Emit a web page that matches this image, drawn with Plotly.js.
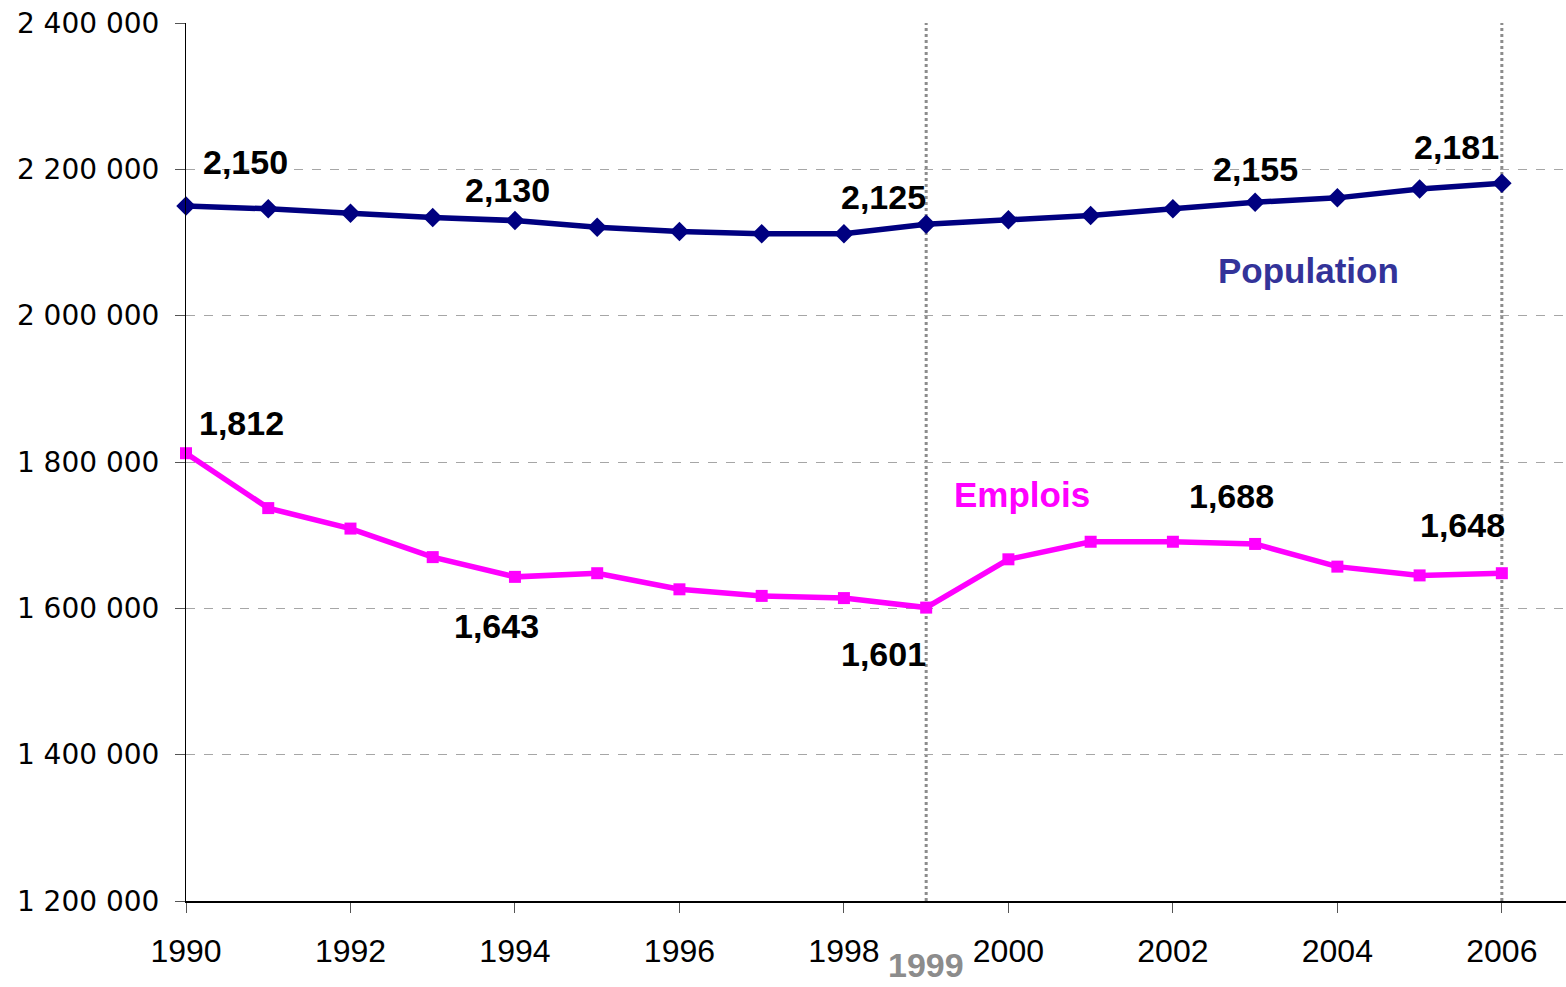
<!DOCTYPE html>
<html>
<head>
<meta charset="utf-8">
<script src="https://cdn.plot.ly/plotly-3.0.1.min.js"></script>
<style>html,body{margin:0;padding:0;background:#fff;}#chart{width:1566px;height:987px;}</style>
</head>
<body>
<div id="chart"></div>
<script>
var years = [1990,1991,1992,1993,1994,1995,1996,1997,1998,1999,2000,2001,2002,2003,2004,2005,2006];
var population = [2150000,2146000,2140000,2134000,2130000,2121000,2115000,2112000,2112000,2125000,2131000,2137000,2146000,2155000,2161000,2173000,2181000];
var emplois = [1812000,1737000,1709000,1670000,1643000,1648000,1626000,1617000,1614000,1601000,1667000,1691000,1691000,1688000,1657000,1645000,1648000];
var popLabelYears = [1990,1994,1999,2003,2006];
var popLabelTexts = ["2,150","2,130","2,125","2,155","2,181"];
var empLabelYears = [1990,1994,1999,2003,2006];
var empLabelTexts = ["1,812","1,643","1,601","1,688","1,648"];
var yTickVals = [1200000,1400000,1600000,1800000,2000000,2200000,2400000];
var yTickText = ["1 200 000","1 400 000","1 600 000","1 800 000","2 000 000","2 200 000","2 400 000"];
var xTickVals = [1990,1992,1994,1996,1998,2000,2002,2004,2006];
var markerYears = [1999,2006];

var popShifts = [[59,44],[-7,31],[-43,27],[0,33],[-45,36]];
var empShifts = [[55,30],[-18,-49],[-43,-46],[-24,48],[-39,48]];

var traces = [
  {x: years, y: population, type:'scatter', mode:'lines+markers', name:'Population',
   line:{color:'#000080', width:5.5}, marker:{symbol:'diamond', size:15, color:'#000080'}, cliponaxis:false},
  {x: years, y: emplois, type:'scatter', mode:'lines+markers', name:'Emplois',
   line:{color:'#FF00FF', width:5.5}, marker:{symbol:'square', size:12, color:'#FF00FF'}, cliponaxis:false}
];

var annotations = [];
var labelFont = {family:'Liberation Sans, Arial, sans-serif', size:34, color:'#000000'};
popLabelYears.forEach(function(yr,i){
  var idx = years.indexOf(yr);
  annotations.push({x: yr, y: population[idx], xref:'x', yref:'y', text:'<b>'+popLabelTexts[i]+'</b>', showarrow:false,
    xshift: popShifts[i][0], yshift: popShifts[i][1], font: labelFont});
});
empLabelYears.forEach(function(yr,i){
  var idx = years.indexOf(yr);
  annotations.push({x: yr, y: emplois[idx], xref:'x', yref:'y', text:'<b>'+empLabelTexts[i]+'</b>', showarrow:false,
    xshift: empShifts[i][0], yshift: empShifts[i][1], font: labelFont});
});
annotations.push({x:2003.65, y:2062000, xref:'x', yref:'y', text:'<b>Population</b>', showarrow:false,
  font:{family:'Liberation Sans, Arial, sans-serif', size:35, color:'#333399'}});
annotations.push({x:2000.16, y:1756000, xref:'x', yref:'y', text:'<b>Emplois</b>', showarrow:false,
  font:{family:'Liberation Sans, Arial, sans-serif', size:35, color:'#FF00FF'}});
annotations.push({x:1999, y:-0.073, xref:'x', yref:'paper', yanchor:'middle', xanchor:'center', text:'<b>1999</b>', showarrow:false,
  font:{family:'Liberation Sans, Arial, sans-serif', size:34, color:'#8C8C8C'}});

var shapes = markerYears.map(function(yr){
  return {type:'line', xref:'x', yref:'paper', x0:yr, x1:yr, y0:0, y1:1,
    line:{color:'#8C8C8C', width:3, dash:'dot'}, layer:'between'};
});

var layout = {
  width:1566, height:987,
  margin:{l:186, r:0, t:23, b:86},
  paper_bgcolor:'#ffffff', plot_bgcolor:'#ffffff',
  showlegend:false,
  xaxis:{range:[1990, 2006.78], tickmode:'array', tickvals:xTickVals, ticktext:xTickVals.map(String),
    showgrid:false, zeroline:false, showline:true, linecolor:'#000000', linewidth:2,
    ticks:'outside', ticklen:10, tickcolor:'#555555', tickwidth:1, ticklabelstandoff:11,
    tickfont:{family:'Liberation Sans, Arial, sans-serif', size:32, color:'#000000'}},
  yaxis:{range:[1200000, 2400000], tickmode:'array', tickvals:yTickVals, ticktext:yTickText,
    showgrid:true, gridcolor:'#A6A6A6', gridwidth:1, griddash:'dash',
    zeroline:false, showline:true, linecolor:'#000000', linewidth:1,
    ticks:'outside', ticklen:10, tickcolor:'#555555', tickwidth:1, ticklabelstandoff:10,
    tickfont:{family:'DejaVu Sans, sans-serif', size:28, color:'#000000'}},
  annotations: annotations,
  shapes: shapes
};

Plotly.newPlot('chart', traces, layout, {displayModeBar:false, staticPlot:true});
</script>
</body>
</html>
